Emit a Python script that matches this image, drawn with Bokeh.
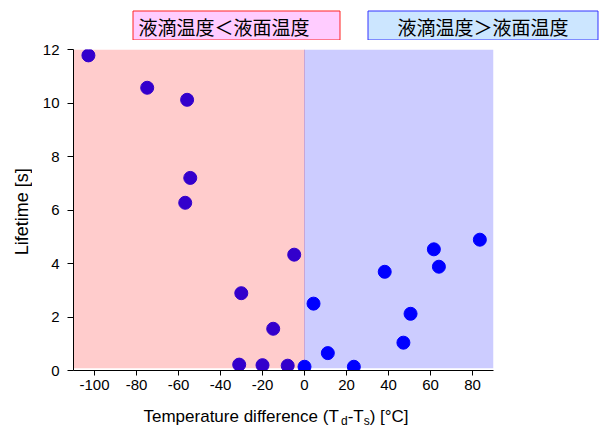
from math import pi
from bokeh.plotting import figure
from bokeh.layouts import column, row
from bokeh.models import BoxAnnotation, Span, FixedTicker, Range1d, PrintfTickFormatter
from bokeh.core.properties import value
from bokeh.embed import file_html
from bokeh.resources import INLINE

# ---- data ----
temp_diff = [-102.9, -74.9, -55.9, -54.4, -56.8, -4.9, -30.1, -14.9, -31.1, -20.0, -8.0,
             0.0, 23.5, 11.1, 4.3, 38.2, 50.5, 47.1, 61.6, 64.0, 83.5]
lifetime = [11.78, 10.57, 10.12, 7.20, 6.27, 4.33, 2.89, 1.56, 0.22, 0.20, 0.18,
            0.14, 0.14, 0.65, 2.50, 3.69, 2.12, 1.04, 4.53, 3.88, 4.89]
x_ticks = [-100, -80, -60, -40, -20, 0, 20, 40, 60, 80]
y_ticks = [0, 2, 4, 6, 8, 10, 12]
label_cold = "液滴温度＜液面温度"
label_hot = "液滴温度＞液面温度"
y_title = "Lifetime [s]"
x_title_parts = ["Temperature difference (T", "d", "-T", "s", ") [°C]"]

LATIN = "Liberation Sans"
CJK = "Noto Sans CJK JP"

X0, X1 = -110, 90
Y0, Y1 = 0, 12

TOTAL_W = 606
HEAD_H = 40
YLAB_W = 32
MAIN_W = TOTAL_W - YLAB_W
FL, FW = 73 - YLAB_W, 420
FT, FH = 49 - HEAD_H, 321
MAIN_H = FT + FH + 30
FOOT_H = 28


def blank(w, h):
    f = figure(width=w, height=h, x_range=Range1d(0, w), y_range=Range1d(0, h),
               min_border=0, x_axis_location=None, y_axis_location=None,
               output_backend="svg", toolbar_location=None, tools="")
    f.outline_line_color = None
    f.xgrid.visible = False
    f.ygrid.visible = False
    return f

# ---------------- header ----------------
head = blank(TOTAL_W, HEAD_H)
def hy(page_y):
    return HEAD_H - page_y
head.quad(left=[132.5], right=[339.5], top=[hy(10.5)], bottom=[hy(39.5)],
          fill_color="#ffccff", line_color="#ff2222", line_width=1)
head.quad(left=[367.5], right=[597.5], top=[hy(10.5)], bottom=[hy(39.5)],
          fill_color="#cce6ff", line_color="#3333ff", line_width=1)
head.text(x=[138], y=[hy(25.5)], text=[label_cold], text_font=value(CJK),
          text_font_size="19px", text_baseline="middle", text_align="left", text_color="black")
head.text(x=[482.5], y=[hy(25.5)], text=[label_hot], text_font=value(CJK),
          text_font_size="19px", text_baseline="middle", text_align="center", text_color="black")

# ---------------- y title ----------------
ylab = blank(YLAB_W, FT + FH + 30)
ylab.text(x=[21.5], y=[(FT + FH + 30) - (222 - HEAD_H)], text=[y_title], angle=pi / 2,
          text_font=value(LATIN), text_font_size="18px", text_baseline="middle",
          text_align="center", text_color="black")

# ---------------- main plot ----------------
p = figure(width=MAIN_W, height=MAIN_H, frame_width=FW, frame_height=FH,
           min_border_left=FL, min_border_right=MAIN_W - FL - FW,
           min_border_top=FT, min_border_bottom=MAIN_H - FT - FH,
           x_range=Range1d(X0, X1), y_range=Range1d(Y0, Y1),
           output_backend="svg", toolbar_location=None, tools="")
p.outline_line_color = None
p.xgrid.visible = False
p.ygrid.visible = False

p.add_layout(BoxAnnotation(left=X0, right=0, bottom=0.08, fill_color="#ffcccc", fill_alpha=1,
                           line_color=None, level="underlay"))
p.add_layout(BoxAnnotation(left=0, right=X1, bottom=0.08, fill_color="#ccccff", fill_alpha=1,
                           line_color=None, level="underlay"))
p.add_layout(Span(location=0, dimension="height", line_color="#c8a6d6", line_width=1, level="underlay"))

cold_x = [x for x in temp_diff if x < 0]
cold_y = [y for x, y in zip(temp_diff, lifetime) if x < 0]
hot_x = [x for x in temp_diff if x >= 0]
hot_y = [y for x, y in zip(temp_diff, lifetime) if x >= 0]
p.scatter(cold_x, cold_y, size=13, fill_color="#3300cc", line_color="#3300cc")
p.scatter(hot_x, hot_y, size=13, fill_color="#0000ff", line_color="#0000ff")

for ax in (p.xaxis[0], p.yaxis[0]):
    ax.axis_line_color = "black"
    ax.major_tick_line_color = "black"
    ax.major_tick_in = 0
    ax.major_tick_out = 5
    ax.minor_tick_line_color = None
    ax.major_label_text_font = LATIN
    ax.major_label_text_font_size = "15px"
    ax.major_label_text_color = "black"
    ax.formatter = PrintfTickFormatter(format="%d")
p.xaxis.ticker = FixedTicker(ticks=x_ticks)
p.yaxis.ticker = FixedTicker(ticks=y_ticks)
p.xaxis.major_label_standoff = 4
p.yaxis.major_label_standoff = 8
p.yaxis.major_tick_out = 6

# ---------------- x title (with subscripts) ----------------
foot = blank(TOTAL_W, FOOT_H)
FOOT_TOP = HEAD_H + MAIN_H
F, SF = 17, 12
base = FOOT_H - (416 - FOOT_TOP)
sub = base - 4
x0 = 143
w_main = (10.671 + 0.333 + 0.611) * F
xs = [x0, x0 + w_main, x0 + w_main + 0.556 * SF,
      x0 + w_main + 0.556 * SF + 0.944 * F,
      x0 + w_main + (0.556 + 0.5) * SF + 0.944 * F]
ys = [base, sub, base, sub, base]
big = [0, 2, 4]
small = [1, 3]
foot.text(x=[xs[i] for i in big], y=[ys[i] for i in big], text=[x_title_parts[i] for i in big],
          text_font=value(LATIN), text_font_size=f"{F}px", text_baseline="middle",
          text_align="left", text_color="black")
foot.text(x=[xs[i] for i in small], y=[ys[i] for i in small], text=[x_title_parts[i] for i in small],
          text_font=value(LATIN), text_font_size=f"{SF}px", text_baseline="middle",
          text_align="left", text_color="black")

layout = column(head, row(ylab, p), foot)
open("out.html", "w").write(file_html(layout, INLINE))
